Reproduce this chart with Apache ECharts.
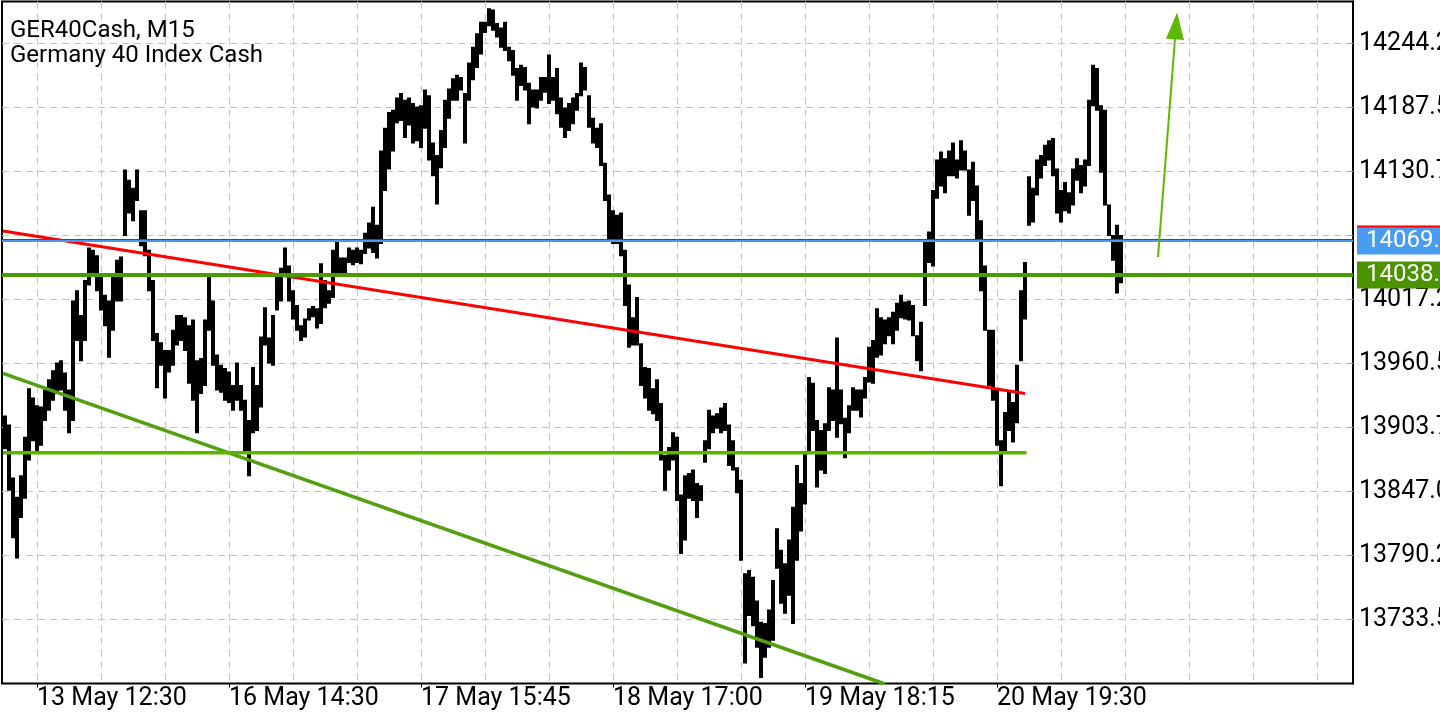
<!DOCTYPE html>
<html>
<head>
<meta charset="utf-8">
<script src="https://cdn.jsdelivr.net/npm/echarts/dist/echarts.min.js"></script>
<style>
html,body{margin:0;padding:0;background:#fff;}
#chart{width:1440px;height:720px;}
</style>
</head>
<body>
<div id="chart"></div>
<script>
// ---- text ----
const titleLine1 = 'GER40Cash, M15';
const titleLine2 = 'Germany 40 Index Cash';
const xTickLabels = ['13 May 12:30', '16 May 14:30', '17 May 15:45', '18 May 17:00', '19 May 18:15', '20 May 19:30'];

// ---- price scale ----
const yStep = 56.75;
const yMin = 13676.75;
const yMax = 14281.49;

// ---- bars (each item = two M15 bars) ----
const lows = [
13885,13848,13806,13788,13824,13841,13875,13892,13883,13888,13910,13919,13928,13934,13937,13919,13899,13910,13981,13963,
13981,14030,14039,14025,14008,13994,13966,13990,14016,14016,14074,14094,14087,14105,14065,14056,14025,13981,13939,13959,
13930,13953,13959,13977,13981,13972,13943,13928,13899,13934,13941,13990,13959,13937,13935,13928,13926,13919,13928,13919,
13883,13861,13899,13901,13922,13977,13961,13959,14008,14016,14039,14016,14000,13990,13981,13984,13999,14002,13992,13996,
14010,14014,14019,14039,14039,14040,14050,14048,14050,14049,14058,14063,14059,14054,14067,14114,14133,14149,14174,14176,
14161,14172,14156,14158,14152,14169,14141,14127,14102,14134,14152,14178,14194,14194,14203,14156,14194,14212,14223,14235,
14254,14260,14256,14250,14241,14238,14229,14216,14194,14207,14203,14173,14188,14187,14194,14201,14191,14194,14182,14170,
14161,14167,14173,14185,14198,14203,14170,14156,14152,14136,14105,14070,14067,14067,14056,14012,13975,13977,13977,13941,
13930,13919,13916,13910,13875,13848,13866,13875,13839,13792,13804,13841,13839,13824,13839,13873,13885,13899,13903,13899,
13901,13870,13866,13846,13786,13695,13737,13728,13709,13682,13700,13709,13715,13779,13748,13739,13755,13730,13786,13812,
13836,13881,13901,13851,13866,13863,13901,13910,13895,13907,13877,13899,13919,13919,13913,13930,13944,13943,13966,13968,
13978,13985,13978,13990,14001,14000,13999,13985,13963,13954,14012,14050,14047,14107,14118,14112,14127,14127,14125,14132,
14132,14092,14105,14070,14025,13990,13941,13928,13888,13852,13883,13901,13891,13908,13963,14000,14083,14086,14110,14125,
14136,14141,14127,14094,14086,14096,14094,14101,14123,14112,14118,14136,14189,14185,14130,14101,14074,14052,14023,14032
];
const highs = [
13914,13906,13859,13842,13861,13895,13938,13930,13923,13922,13937,13946,13954,13961,13963,13952,13937,14016,14025,14003,
14034,14063,14061,14056,14040,14021,14016,14039,14052,14055,14132,14123,14116,14132,14096,14096,14061,14034,13987,13979,
13972,13972,13990,14003,14003,14001,13994,13999,13963,13965,13999,14037,14016,13968,13959,13956,13953,13941,13961,13941,
13928,13910,13957,13941,13984,14010,13983,14003,14037,14045,14063,14047,14025,14012,13994,14000,14009,14011,14009,14049,
14034,14025,14061,14070,14054,14054,14063,14061,14063,14061,14076,14085,14099,14083,14149,14169,14183,14185,14196,14200,
14194,14196,14191,14188,14189,14203,14198,14156,14145,14167,14194,14204,14213,14216,14214,14200,14227,14241,14253,14263,
14263,14275,14274,14262,14258,14263,14241,14238,14222,14225,14223,14209,14203,14203,14214,14214,14234,14214,14222,14196,
14187,14191,14196,14200,14227,14223,14198,14178,14169,14173,14138,14110,14096,14092,14094,14061,14030,14001,14019,13978,
13957,13956,13938,13946,13925,13879,13886,13899,13895,13844,13861,13863,13866,13854,13852,13892,13919,13914,13916,13921,
13925,13906,13892,13868,13857,13774,13777,13771,13750,13731,13730,13742,13768,13814,13795,13783,13804,13833,13870,13854,
13881,13948,13943,13910,13901,13907,13939,13937,13983,13937,13912,13923,13939,13937,13937,13948,13975,13981,14009,14001,
13999,14001,14006,14014,14021,14015,14016,14012,13985,13997,14068,14077,14114,14141,14148,14142,14149,14156,14141,14158,
14149,14132,14139,14118,14087,14047,13990,13990,13937,13892,13917,13935,13926,13959,14025,14050,14126,14116,14141,14145,
14154,14158,14160,14133,14114,14121,14112,14133,14142,14136,14141,14194,14225,14222,14189,14185,14101,14074,14083,14074
];

// ---- drawn objects (anchor: [bar item index, price]) ----
const redTrend = [[-0.5, 14078.0], [255, 13933.9]];
const greenTrend = [[-0.5, 13951.8], [220, 13676.3]];
const supportLine = [[-0.5, 13881.4], [255.4, 13881.4]];
const askPrice = 14070.9;
const bidPrice = 14069.05;
const resistancePrice = 14038.95;
const arrowFrom = [288.25, 14054.9];
const arrowTo = [292.75, 14259.8];

const barData = lows.map((l, i) => [i, l, highs[i]]);

const FONT = 'Roboto';
const chart = echarts.init(document.getElementById('chart'), null, {renderer: 'canvas'});

function hline(price, color, width, z, labelBg) {
  return {
    type: 'line', data: [], xAxisIndex: 0, yAxisIndex: 0, z: z, silent: true,
    markLine: {
      silent: true, symbol: ['none', 'none'], animation: false,
      lineStyle: {color: color, width: width, type: 'solid'},
      label: {
        show: true, position: 'end', distance: 4,
        formatter: () => price.toFixed(2),
        color: '#fff', fontFamily: FONT, fontSize: 24, lineHeight: 25,
        backgroundColor: labelBg, padding: [1, 6, 1, 9]
      },
      emphasis: {disabled: true},
      data: [{yAxis: price}]
    }
  };
}

const dashed = {color: '#c3c3c3', width: 1, type: [7, 5]};
const gridBase = {top: 1.5, bottom: 36.5, containLabel: false, outerBoundsMode: 'none'};

const option = {
  animation: false,
  backgroundColor: '#ffffff',
  title: {
    text: titleLine1 + '\n' + titleLine2,
    left: 10, top: 18, padding: 0,
    textStyle: {fontFamily: FONT, fontSize: 24, fontWeight: 'normal', color: '#000', lineHeight: 25}
  },
  grid: [
    Object.assign({left: 2, right: 87, show: true, borderColor: '#000', borderWidth: 2, backgroundColor: 'transparent'}, gridBase),
    Object.assign({left: 37, right: 123}, gridBase),
    Object.assign({left: 37, right: 443}, gridBase)
  ],
  xAxis: [
    {gridIndex: 0, type: 'value', min: -0.75, max: 337, show: false, axisLine: {onZero: false}},
    {gridIndex: 1, type: 'value', min: 0, max: 640, interval: 32,
      axisLine: {show: false, onZero: false}, axisTick: {show: false}, axisLabel: {show: false},
      splitLine: {show: true, showMinLine: true, showMaxLine: true, lineStyle: dashed}},
    {gridIndex: 2, type: 'value', min: 0, max: 480, interval: 96,
      axisLine: {show: false, onZero: false},
      axisTick: {show: true, length: 4, lineStyle: {color: '#000', width: 1}},
      axisLabel: {show: true, align: 'left', margin: 3, color: '#000', fontFamily: FONT, fontSize: 25,
        hideOverlap: false,
        formatter: v => xTickLabels[Math.round(v / 96)] || ''},
      splitLine: {show: false}}
  ],
  yAxis: [
    {gridIndex: 0, type: 'value', position: 'right', min: yMin, max: yMax, interval: yStep, z: 0,
      axisLine: {show: true, onZero: false, lineStyle: {color: '#000', width: 2}},
      axisTick: {show: true, inside: true, length: 6, lineStyle: {color: '#aaa'}},
      axisLabel: {show: true, margin: 6, color: '#000', fontFamily: FONT, fontSize: 25,
        showMinLabel: false, showMaxLabel: false, hideOverlap: false,
        formatter: v => {
          const k = v / yStep;
          if (Math.abs(k - Math.round(k)) > 1e-6) return '';
          // the price tag of the current bid hides the scale label under it
          if (Math.abs(v - bidPrice) < yStep * 0.3) return '';
          return (Math.floor(v * 10 + 1e-6) / 10).toFixed(1);
        }},
      splitLine: {show: true, showMinLine: false, showMaxLine: false, lineStyle: dashed}},
    {gridIndex: 1, type: 'value', min: 0, max: 1, show: false, axisLine: {onZero: false}},
    {gridIndex: 2, type: 'value', min: 0, max: 1, show: false, axisLine: {onZero: false}}
  ],
  series: [
    {
      type: 'custom', name: 'bars', xAxisIndex: 0, yAxisIndex: 0, clip: true, silent: true, z: 3,
      data: barData,
      renderItem: (params, api) => {
        const x = api.value(0), lo = api.value(1), hi = api.value(2);
        const top = api.coord([x, hi]);
        const bot = api.coord([x, lo]);
        const w = api.size([1, 0])[0];
        return {type: 'rect', shape: {x: top[0] - w / 2, y: top[1] - 0.5, width: w, height: Math.max(bot[1] - top[1], 1.5) + 1},
          style: {fill: '#000'}};
      }
    },
    {type: 'line', data: redTrend, xAxisIndex: 0, yAxisIndex: 0, symbol: 'none', silent: true, z: 4,
      lineStyle: {color: '#ff0000', width: 3}},
    {type: 'line', data: greenTrend, xAxisIndex: 0, yAxisIndex: 0, symbol: 'none', silent: true, z: 4,
      lineStyle: {color: '#52a010', width: 3.5}},
    {type: 'line', data: supportLine, xAxisIndex: 0, yAxisIndex: 0, symbol: 'none', silent: true, z: 4,
      lineStyle: {color: '#5cb400', width: 3.5}},
    hline(askPrice, '#ff0000', 1, 20, '#ff0000'),
    hline(bidPrice, '#4a97ee', 2, 21, '#4a9cf2'),
    hline(resistancePrice, '#4c9900', 4, 22, '#4c9300'),
    {type: 'line', data: [], xAxisIndex: 0, yAxisIndex: 0, z: 8, silent: true,
      markLine: {silent: true, animation: false,
        lineStyle: {color: '#5cb800', width: 2, type: 'solid'},
        label: {show: false},
        emphasis: {disabled: true},
        data: [[{coord: arrowFrom, symbol: 'none'}, {coord: arrowTo, symbol: 'triangle', symbolSize: [18, 27]}]]
      }}
  ]
};
chart.setOption(option);
</script>
</body>
</html>
